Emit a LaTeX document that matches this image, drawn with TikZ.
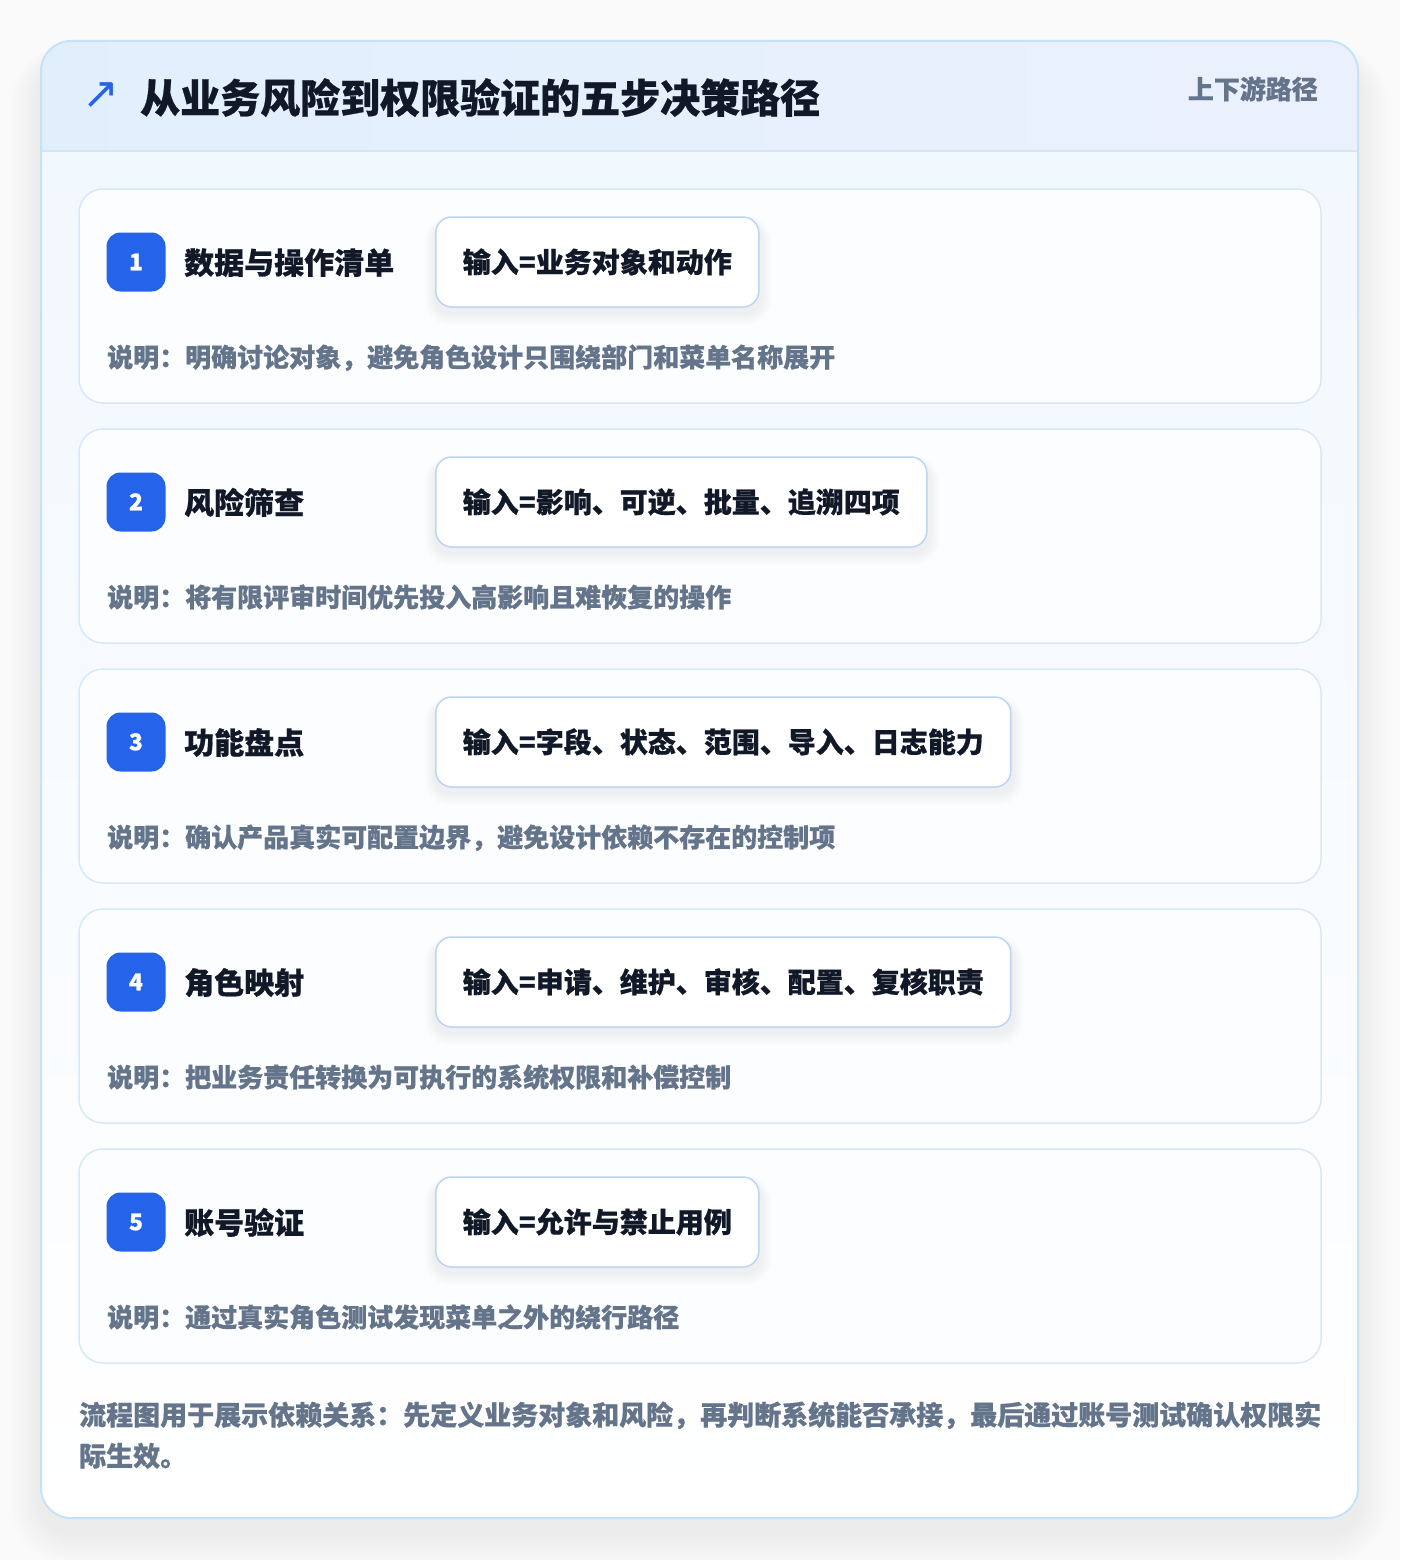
\documentclass[tikz,border=0pt]{standalone}
\usepackage{fontspec}
\setmainfont{Noto Sans CJK SC}[BoldFeatures={FakeBold=0.6}]
\newfontfamily\symfont{DejaVu Sans}
\definecolor{pagebg}{HTML}{FAFAFB}
\definecolor{outerborder}{HTML}{C5E2F6}
\definecolor{headL}{HTML}{E1EFFD}
\definecolor{headR}{HTML}{EBF1FC}
\definecolor{headline}{HTML}{D3E6F9}
\definecolor{bodytop}{HTML}{F0F7FE}
\definecolor{cardborder}{HTML}{D8E8F8}
\definecolor{cardfill}{HTML}{FCFDFF}
\definecolor{inborder}{HTML}{BBD5F4}
\definecolor{badgeblue}{HTML}{2563EB}
\definecolor{darktext}{HTML}{111827}
\definecolor{graytext}{HTML}{64748B}
\tikzset{
  stepcard/.style={draw=cardborder, line width=1.5pt, fill=cardfill, rounded corners=24pt},
  badgebox/.style={fill=badgeblue, rounded corners=14pt, minimum width=59pt, minimum height=59pt, inner sep=0pt, text=white, font=\bfseries\fontsize{23}{24}\selectfont, text height=16.5pt, text depth=0pt},
  steptitle/.style={anchor=base west, inner sep=0pt, text=darktext, font=\bfseries\fontsize{30}{34}\selectfont},
  inputbox/.style={anchor=west, draw=inborder, line width=1.5pt, fill=white, rounded corners=16pt, minimum height=90pt, inner xsep=27pt, inner ysep=0pt, text=darktext, font=\bfseries\fontsize{28}{32}\selectfont, text height=23.2pt, text depth=2pt},
  desctext/.style={anchor=base west, inner sep=0pt, text=graytext, font=\bfseries\fontsize{26}{30}\selectfont},
  foottext/.style={anchor=base west, inner sep=0pt, text=graytext, font=\bfseries\fontsize{27}{32}\selectfont},
}
\begin{document}
\begin{tikzpicture}[x=1pt,y=-1pt]
\useasboundingbox (0,0) rectangle (1400,1560);
\fill[pagebg] (0,0) rectangle (1400,1560);
% outer card shadow
\foreach \k in {1,...,14}{
  \fill[black, opacity=0.0045, rounded corners=30pt+\k*2.2pt] (41-\k*2.2,41+20-\k*1.2) rectangle (1358+\k*2.2,1518+16+\k*2.2);
}
% outer card
\fill[white, rounded corners=30pt] (41,41) rectangle (1358,1518);
\shade[top color=bodytop, bottom color=white, rounded corners=30pt] (41,41) rectangle (1358,1518);
\begin{scope}
  \clip[rounded corners=30pt] (41,41) rectangle (1358,1518);
  \shade[left color=headL, right color=headR] (41,41) rectangle (1358,151);
\end{scope}
\draw[headline, line width=1.5pt] (41,151) -- (1358,151);
\draw[outerborder, line width=2pt, rounded corners=30pt] (41,41) rectangle (1358,1518);
% header
\node[anchor=center, inner sep=0pt, text=badgeblue, font=\symfont\fontsize{44}{44}\selectfont] (icon) at (101,96) {↗};
\node[anchor=base west, inner sep=0pt, text=darktext, font=\bfseries\fontsize{40}{48}\selectfont] (title) at (140,113) {从业务风险到权限验证的五步决策路径};
\node[anchor=base east, inner sep=0pt, text=graytext, font=\bfseries\fontsize{26}{30}\selectfont] (tag) at (1318,99) {上下游路径};
% steps
\foreach \i/\ttl/\inp/\desc/\w in {
  1/数据与操作清单/输入=业务对象和动作/说明：明确讨论对象，避免角色设计只围绕部门和菜单名称展开/326,
  2/风险筛查/输入=影响、可逆、批量、追溯四项/说明：将有限评审时间优先投入高影响且难恢复的操作/494,
  3/功能盘点/输入=字段、状态、范围、导入、日志能力/说明：确认产品真实可配置边界，避免设计依赖不存在的控制项/578,
  4/角色映射/输入=申请、维护、审核、配置、复核职责/说明：把业务责任转换为可执行的系统权限和补偿控制/578,
  5/账号验证/输入=允许与禁止用例/说明：通过真实角色测试发现菜单之外的绕行路径/326}{
  \pgfmathsetmacro{\top}{189+240*(\i-1)}
  \draw[stepcard] (79,\top) rectangle (1321,\top+214);
  \foreach \k in {1,...,7}{
    \fill[black, opacity=0.008, rounded corners=16pt+\k*1.5pt] (435-\k*1.5,\top+28+6-\k*1.0) rectangle (435+\w+\k*1.5,\top+118+6+\k*1.8);
  }
  \node[badgebox] (badge\i) at (136,\top+73) {\i};
  \node[steptitle] (title\i) at (184,\top+85) {\ttl};
  \node[inputbox] (input\i) at (435,\top+73) {\inp};
  \node[desctext] (desc\i) at (107,\top+178) {\desc};
}
% footer
\node[foottext] (foot1) at (79,1425) {流程图用于展示依赖关系：先定义业务对象和风险，再判断系统能否承接，最后通过账号测试确认权限实};
\node[foottext] (foot2) at (79,1466) {际生效。};
\end{tikzpicture}
\end{document}
